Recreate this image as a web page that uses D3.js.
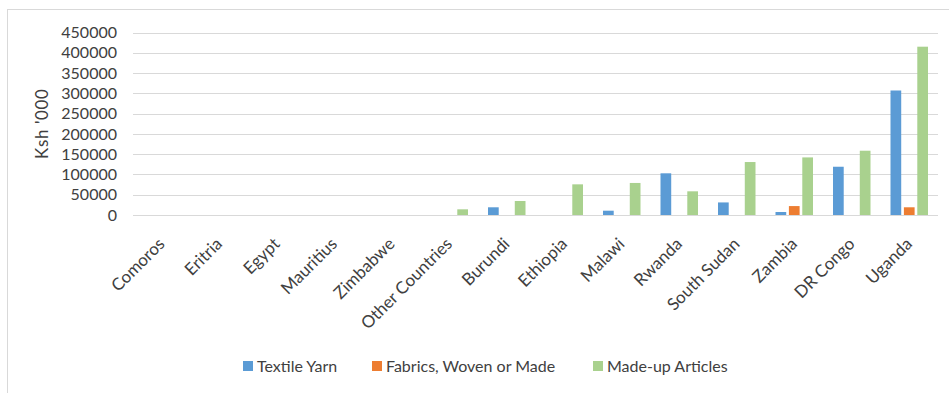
<!DOCTYPE html>
<html><head><meta charset="utf-8">
<script src="https://cdn.jsdelivr.net/npm/d3@7"></script>
<style>body{margin:0;background:#fff;} text{font-family:Lato, "Open Sans", sans-serif;fill:#404040;}</style>
</head><body><svg id="c" width="949" height="393"></svg>
<script>
const categories = ["Comoros","Eritria","Egypt","Mauritius","Zimbabwe","Other Countries","Burundi","Ethiopia","Malawi","Rwanda","South Sudan","Zambia","DR Congo","Uganda"];
const seriesNames = ["Textile Yarn","Fabrics, Woven or Made","Made-up Articles"];
const textileYarn = [0,0,0,0,0,0,19000,0,10600,102800,31000,7400,119000,307000];
const fabrics =     [0,0,0,0,0,0,0,0,0,0,0,22000,0,19000];
const madeUp =      [0,0,0,0,0,14000,34500,75600,79000,58400,130600,142000,158500,415000];
const yTicks = [0,50000,100000,150000,200000,250000,300000,350000,400000,450000];
const colors = ["#5B9BD5","#ED7D31","#A9D18E"];
const yTitle = "Ksh '000";

const series = [textileYarn, fabrics, madeUp];
const svg = d3.select("#c");
svg.append("rect").attr("x",7.5).attr("y",9.5).attr("width",960).attr("height",400)
  .attr("fill","none").attr("stroke","#d9d9d9");

const pL=133, pR=938, pT=32.5, pB=215;
const x = d3.scaleBand().domain(categories).range([pL,pR]).paddingInner(0).paddingOuter(0);
const y = d3.scaleLinear().domain([0,450000]).range([pB,pT]);
const xs = d3.scaleBand().domain(d3.range(3)).range([-18.75,18.75]).paddingInner(0.2);

// gridlines
svg.append("g").selectAll("line").data(yTicks).join("line")
  .attr("x1",pL).attr("x2",pR).attr("y1",d=>Math.round(y(d))+0.5).attr("y2",d=>Math.round(y(d))+0.5)
  .attr("stroke","#d9d9d9").attr("stroke-width",1);

// y axis labels
const ya = svg.append("g").attr("transform",`translate(${pL-16},0)`)
  .call(d3.axisLeft(y).tickValues(yTicks).tickSize(0).tickPadding(0).tickFormat(d3.format("d")));
ya.select(".domain").remove();
ya.selectAll("text").style("font-size","16px").attr("fill","#404040").style("font-family","Lato");

svg.append("text").attr("transform",`translate(48,${(pT+pB)/2}) rotate(-90)`)
  .attr("text-anchor","middle").style("font-size","17px").style("letter-spacing","0.6px").text(yTitle);

// bars
series.forEach((vals,si)=>{
  svg.append("g").selectAll("rect").data(vals).join("rect")
    .attr("x",(d,i)=>x(categories[i])+x.bandwidth()/2+xs(si))
    .attr("width",xs.bandwidth())
    .attr("y",d=>y(d)).attr("height",d=>pB-y(d))
    .attr("fill",colors[si]);
});

// x axis labels
const xa = svg.append("g").attr("transform",`translate(0,${pB})`)
  .call(d3.axisBottom(x).tickSize(0).tickPadding(0));
xa.select(".domain").remove();
xa.selectAll("text").attr("text-anchor","end").attr("dy","0")
  .attr("transform","translate(4,30) rotate(-45)")
  .style("font-size","17px").attr("fill","#404040").style("font-family","Lato");

// legend
const lx = [243,372,593];
const lg = svg.append("g");
seriesNames.forEach((n,i)=>{
  lg.append("rect").attr("x",lx[i]).attr("y",361).attr("width",10).attr("height",10).attr("fill",colors[i]);
  lg.append("text").attr("x",lx[i]+14).attr("y",372).style("font-size","16px").text(n);
});
</script></body></html>
